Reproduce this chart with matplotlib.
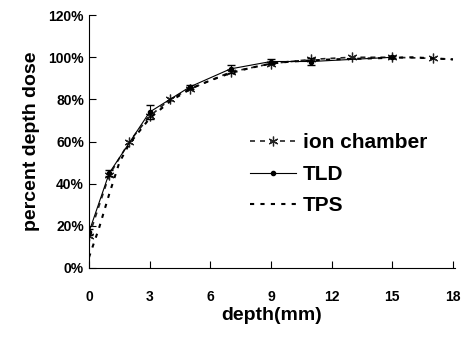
import matplotlib.pyplot as plt
from matplotlib.lines import Line2D
import numpy as np

plt.rcParams['font.family'] = ['Liberation Sans Narrow', 'Liberation Sans', 'DejaVu Sans']
plt.rcParams['font.weight'] = 'bold'

# ion chamber
ic_depth = [0, 1, 2, 3, 4, 5, 7, 9, 11, 13, 15, 17, 18]
ic_dose = [15, 44, 60, 72, 80, 85, 93, 97, 99, 100, 100, 99.5, 99]
ic_mark = [0, 1, 2, 3, 4, 5, 6, 7, 8, 9, 10, 11]

# TLD
tld_depth = [0, 1, 3, 5, 7, 9, 11, 15]
tld_dose = [17, 45, 74, 86, 94.5, 98, 98, 100]
tld_err = [1.5, 1.5, 3.5, 1, 2, 1, 1.5, 0.5]

# TPS
tps_depth = [0, 0.5, 1, 1.5, 2, 3, 4, 5, 6, 7, 8, 9, 10, 12, 14, 16, 18]
tps_dose = [5, 19, 35, 50, 59, 71, 79, 85, 89, 92.5, 95, 97, 98, 99, 99.5, 100, 99]

fig = plt.figure(figsize=(4.61, 3.37), dpi=100)
ax = fig.add_axes([0.193, 0.205, 0.794, 0.75])

ic_style = dict(color='#222222', linestyle=(0, (3, 3)), linewidth=1.2,
                marker=(6, 2, 0), markersize=7, markeredgewidth=0.9)
tld_style = dict(color='black', linewidth=0.8, marker='o', markersize=3)
tps_style = dict(color='black', linestyle=(0, (2, 3)), linewidth=1.5)

ax.plot(ic_depth, ic_dose, markevery=ic_mark, **ic_style)
ax.errorbar(tld_depth, tld_dose, yerr=tld_err, capsize=3, elinewidth=0.8,
            **tld_style)
ax.plot(tps_depth, tps_dose, **tps_style)

ax.set_xlim(0, 18.1)
ax.set_ylim(0, 120)
ax.set_xticks(np.arange(0, 19, 3))
ax.set_yticks(np.arange(0, 121, 20))
ax.set_yticklabels(['%d%%' % v for v in range(0, 121, 20)])
ax.tick_params(direction='in', labelsize=10, length=5, width=0.8)
ax.tick_params(axis='x', pad=16)
for lab in ax.get_xticklabels() + ax.get_yticklabels():
    lab.set_fontweight('bold')
ax.spines['top'].set_visible(False)
ax.spines['right'].set_visible(False)
ax.set_xlabel('depth(mm)', fontsize=14, fontweight='bold', labelpad=2)
ax.set_ylabel('percent depth dose', fontsize=14, fontweight='bold', labelpad=6)

handles = [Line2D([], [], markevery=[1], **ic_style),
           Line2D([], [], **tld_style),
           Line2D([], [], **tps_style)]
handles[0].set_markevery(None)
ax.legend(handles, ['ion chamber', 'TLD', 'TPS'], loc='center left',
          bbox_to_anchor=(0.39, 0.37), frameon=False, handlelength=2.2,
          handletextpad=0.3, labelspacing=0.6, numpoints=1,
          prop={'weight': 'bold', 'size': 15})

fig.savefig('out.png', dpi=100)
